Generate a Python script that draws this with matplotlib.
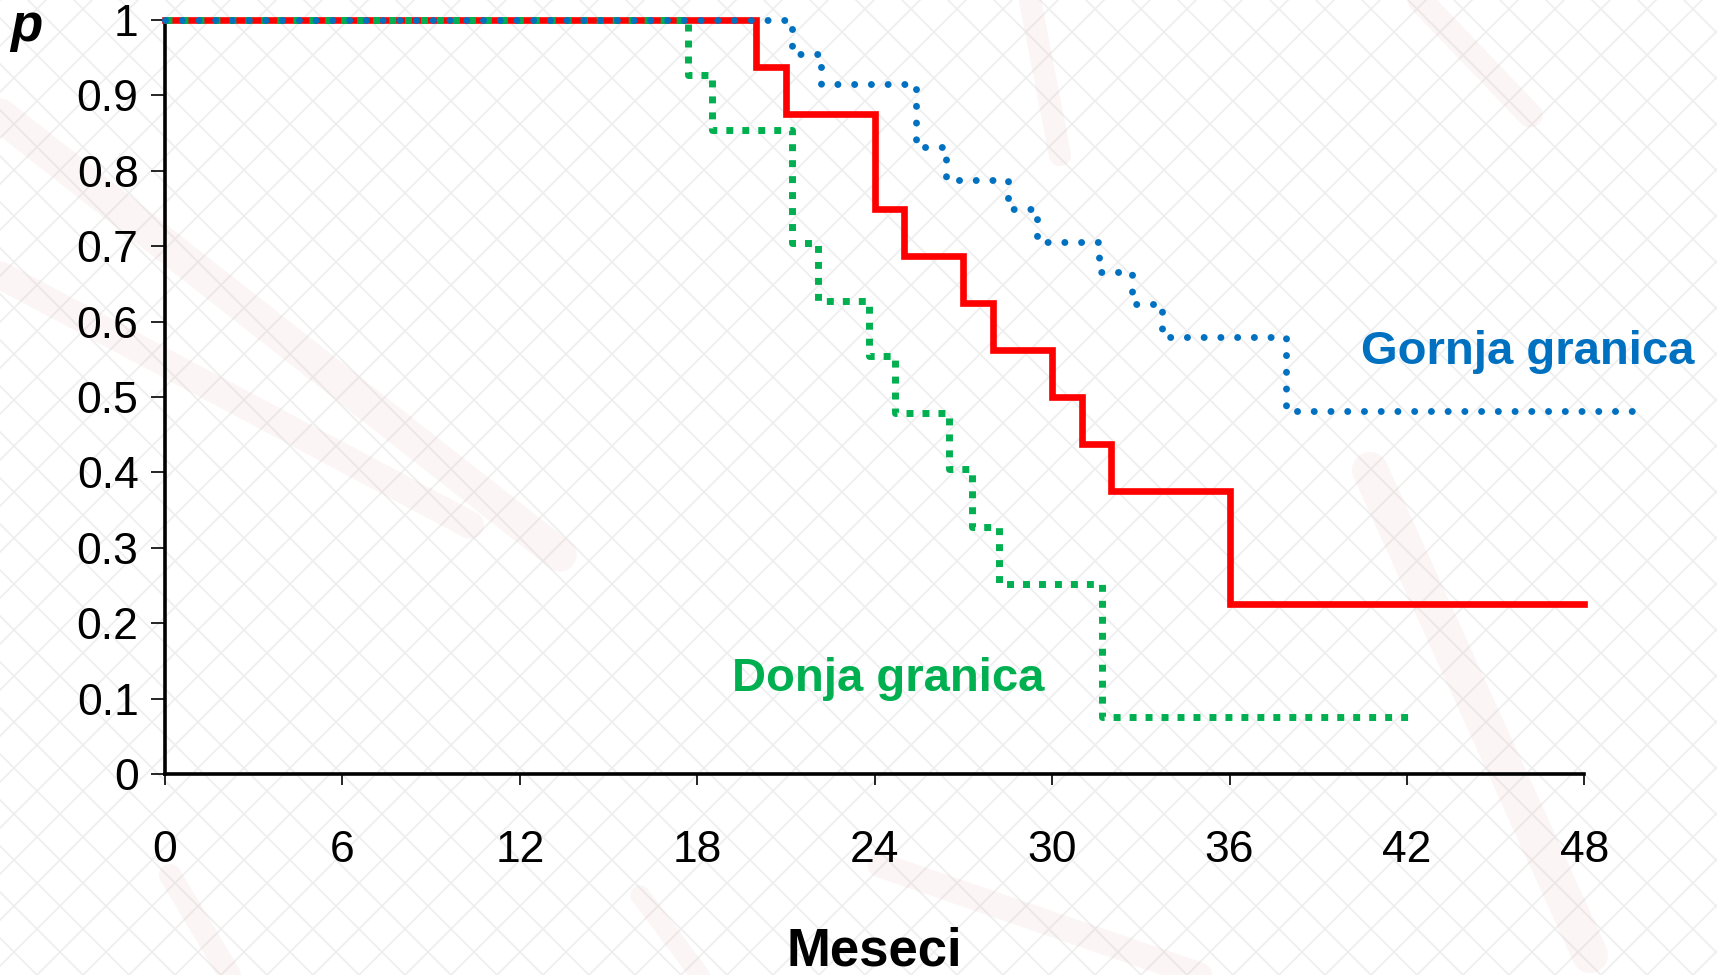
import matplotlib
matplotlib.use("Agg")
import matplotlib.pyplot as plt
import numpy as np

plt.rcParams['font.family'] = ['Liberation Sans', 'DejaVu Sans']

# Kaplan-Meier estimate (months, survival probability)
months_km = [0, 20, 21, 24, 25, 27, 28, 30, 31, 32, 36, 48]
surv_km = [1, 0.9375, 0.875, 0.75, 0.6875, 0.625, 0.5625, 0.5, 0.4375, 0.375, 0.225, 0.225]

# upper bound ("Gornja granica")
months_upper = [0, 21.2, 22.2, 25.4, 26.4, 28.5, 29.5, 31.6, 32.7, 33.7, 37.9, 50.0]
surv_upper = [1, 0.955, 0.915, 0.832, 0.788, 0.749, 0.706, 0.666, 0.623, 0.580, 0.482, 0.482]

# lower bound ("Donja granica")
months_lower = [0, 17.7, 18.5, 21.2, 22.1, 23.8, 24.7, 26.5, 27.3, 28.2, 31.7, 42.1]
surv_lower = [1, 0.927, 0.854, 0.704, 0.627, 0.554, 0.479, 0.405, 0.328, 0.252, 0.075, 0.075]

xticks = [0, 6, 12, 18, 24, 30, 36, 42, 48]
yticks = [0, 0.1, 0.2, 0.3, 0.4, 0.5, 0.6, 0.7, 0.8, 0.9, 1]
ytick_labels = ['0', '0.1', '0.2', '0.3', '0.4', '0.5', '0.6', '0.7', '0.8', '0.9', '1']

W, H = 1717, 975
fig = plt.figure(figsize=(W / 100, H / 100), dpi=100)
fig.patch.set_facecolor('white')

# light diamond pattern in the background
bg = fig.add_axes([0, 0, 1, 1], zorder=-5)
bg.set_xlim(0, W)
bg.set_ylim(0, H)
bg.axis('off')
step = 46
for c in np.arange(-H, W + H, step):
    bg.plot([c, c + H], [0, H], color='#eeeeee', lw=1.2)
    bg.plot([c, c - H], [0, H], color='#eeeeee', lw=1.2)
# faint pencil streaks
for (x1, y1, x2, y2, w) in [(0, 860, 560, 420, 24), (0, 700, 470, 450, 20),
                            (1370, 505, 1590, 20, 26), (1420, 975, 1530, 860, 18),
                            (1030, 975, 1060, 820, 16), (880, 110, 1200, 0, 18),
                            (170, 100, 230, 0, 16), (640, 80, 700, 0, 14)]:
    bg.plot([x1, x2], [y1, y2], color='#e8a0a0', lw=w, alpha=0.1,
            solid_capstyle='round')

# main axes: x 0..48 spans px 165..1585, y 0..1 spans px 774..20
x0, px_per_month = 165, 29.57
xmax = 52
left = x0 / W
width = px_per_month * xmax / W
bottom = (H - 774) / H
height = (774 - 20) / H
ax = fig.add_axes([left, bottom, width, height])
ax.patch.set_alpha(0)
ax.set_xlim(0, xmax)
ax.set_ylim(0, 1)

ax.step(months_km, surv_km, where='post', color='#ff0000', lw=4.8,
        clip_on=False, zorder=3, solid_joinstyle='miter')
ax.step(months_lower, surv_lower, where='post', color='#00b050', lw=5.0,
        linestyle=(0, (1, 1.3)), dash_capstyle='butt', clip_on=False, zorder=4)
ax.step(months_upper, surv_upper, where='post', color='#0070c0', lw=5.0,
        linestyle=(0, (0.01, 2.4)), dash_capstyle='round', clip_on=False, zorder=5)

for s in ['top', 'right']:
    ax.spines[s].set_visible(False)
ax.spines['left'].set_linewidth(2.6)
ax.spines['bottom'].set_linewidth(2.6)
ax.spines['bottom'].set_bounds(0, 48)

ax.set_xticks(xticks)
ax.set_xticklabels([str(t) for t in xticks])
ax.set_yticks(yticks)
ax.set_yticklabels(ytick_labels)
ax.tick_params(axis='y', length=10, width=1.2, pad=9, labelsize=32)
ax.tick_params(axis='x', length=8, width=1.2, pad=32, labelsize=32)

ax.set_xlabel('Meseci', fontsize=38, fontweight='bold')
ax.xaxis.set_label_coords(24 / xmax, -0.202)

fig.text(10 / W, 1 - 27 / H, 'p', fontsize=38, fontweight='bold', style='italic',
         ha='left', va='center')

ax.text(46.1, 0.56, 'Gornja granica', color='#0070c0', fontsize=34,
        fontweight='bold', ha='center', va='center', clip_on=False)
ax.text(24.45, 0.126, 'Donja granica', color='#00b050', fontsize=34,
        fontweight='bold', ha='center', va='center')

fig.savefig('out.png', dpi=100)
